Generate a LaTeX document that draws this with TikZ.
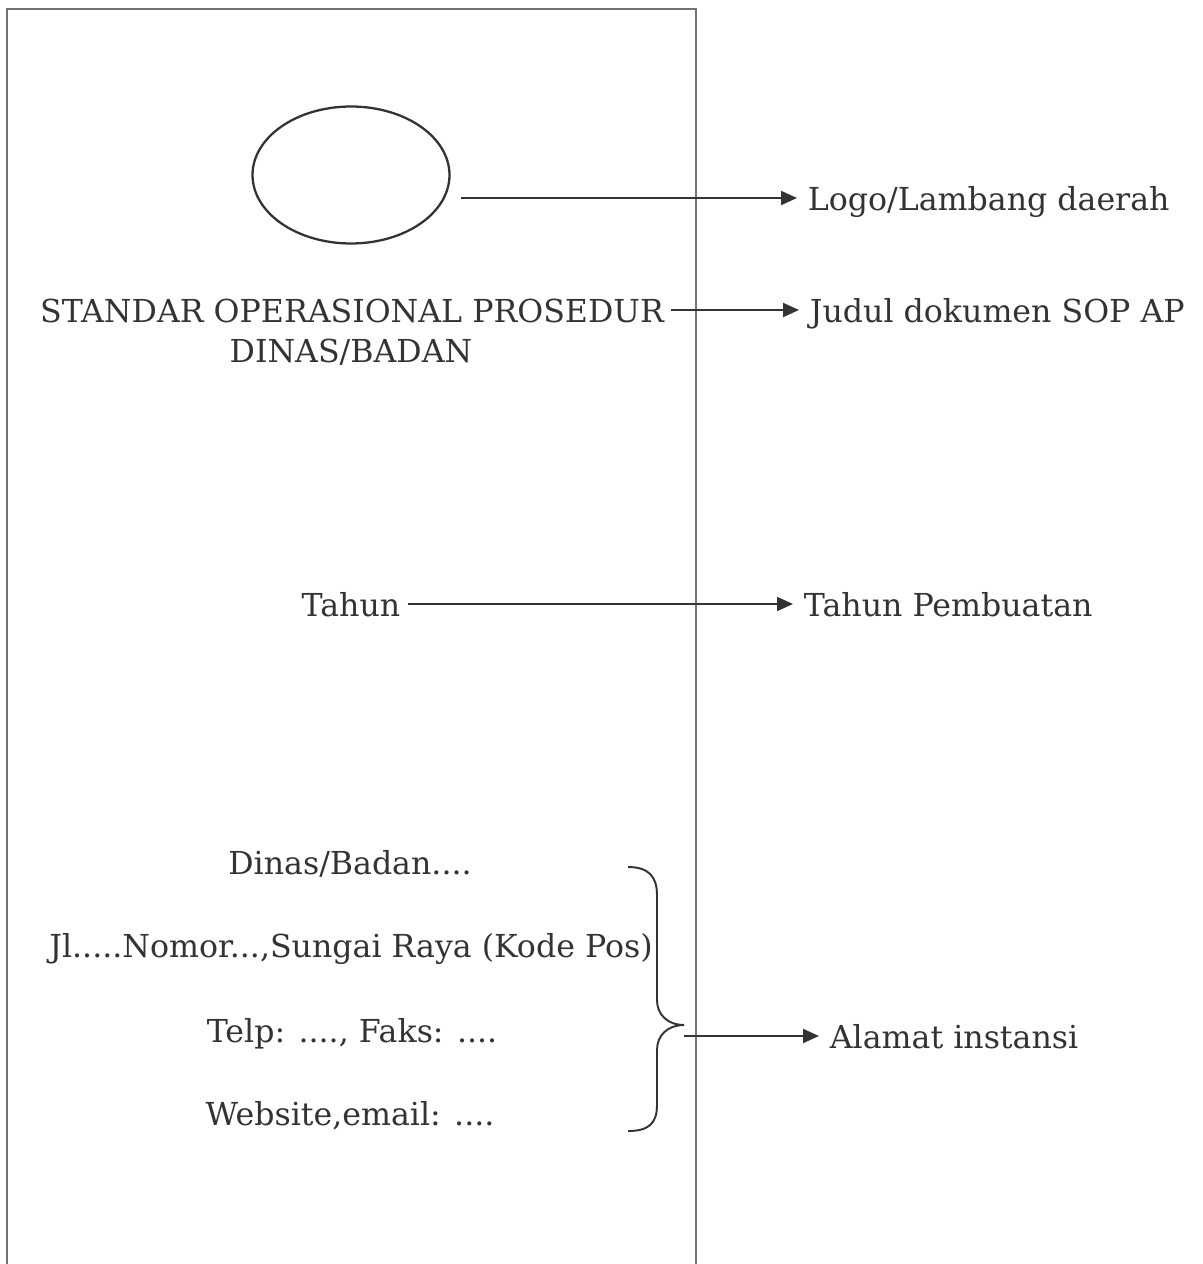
\documentclass[tikz,border=0pt]{standalone}
\usepackage{fontspec}
\setmainfont{DejaVu Serif}
\usepackage{tikz}
\usetikzlibrary{arrows.meta}
\usetikzlibrary{shapes.geometric}
\usetikzlibrary{positioning}
\definecolor{ink}{rgb}{0.2, 0.2, 0.2}
\definecolor{framegray}{rgb}{0.45, 0.45, 0.45}

\tikzset{
  txt/.style={ink, font=\fontsize{18}{21}\selectfont, text height=18pt, text depth=4pt, inner ysep=0pt, inner xsep=4pt},
  lbl/.style={txt, anchor=west, inner xsep=6pt},
  arr/.style={ink, line width=1.1pt, -{Triangle[length=0.32cm, width=0.28cm]}},
}

\begin{document}
\begin{tikzpicture}[x=0.02cm, y=-0.02cm]
      \useasboundingbox (0,0) rectangle (1203,1264);

      % page, open at the bottom
      \draw [framegray, line width=0.8pt] (7,1264) -- (7,9) -- (696,9) -- (696,1264);

      \node [ellipse, draw=ink, line width=1.3pt, minimum width=3.94cm, minimum height=2.74cm] (logo) at (351,175) {};

      \node [txt] (judul1) at (352,310) {STANDAR OPERASIONAL PROSEDUR};
      \node [txt] (judul2) at (351,350) {DINAS/BADAN};

      \node [txt] (tahun) at (351,604) {Tahun};

      \node [txt] (dinas) at (350,862) {Dinas/Badan....};
      \node [txt] (jalan) at (351,945) {Jl.....Nomor...,Sungai Raya (Kode Pos)};
      \node [txt] (telp) at (352,1030) {Telp: ...., Faks: ....};
      \node [txt] (web) at (350,1113) {Website,email: ....};

      \node [lbl] (lbllogo) at (797,198) {Logo/Lambang daerah};
      \node [lbl] (lbljudul) at (799,310) {Judul dokumen SOP AP};
      \node [lbl] (lbltahun) at (793,604) {Tahun Pembuatan};
      \node [lbl] (lblalamat) at (819,1036) {Alamat instansi};

      % brace round the address lines
      \coordinate (bracetip) at (684,1025);
      \draw [ink, line width=1.1pt] (628,867) .. controls (648,867) and (657,876) .. (657,895)
        -- (657,1000) .. controls (657,1015) and (668,1025) .. (bracetip)
        .. controls (668,1025) and (657,1035) .. (657,1050)
        -- (657,1105) .. controls (657,1124) and (648,1131) .. (628,1131);

      \draw [arr, shorten <=0.2cm] (logo.east |- lbllogo.west) -- (lbllogo.west);
      \draw [arr] (judul1.east) -- (lbljudul.west);
      \draw [arr] (tahun.east) -- (lbltahun.west);
      \draw [arr] (bracetip |- lblalamat.west) -- (lblalamat.west);
    \end{tikzpicture}
\end{document}
